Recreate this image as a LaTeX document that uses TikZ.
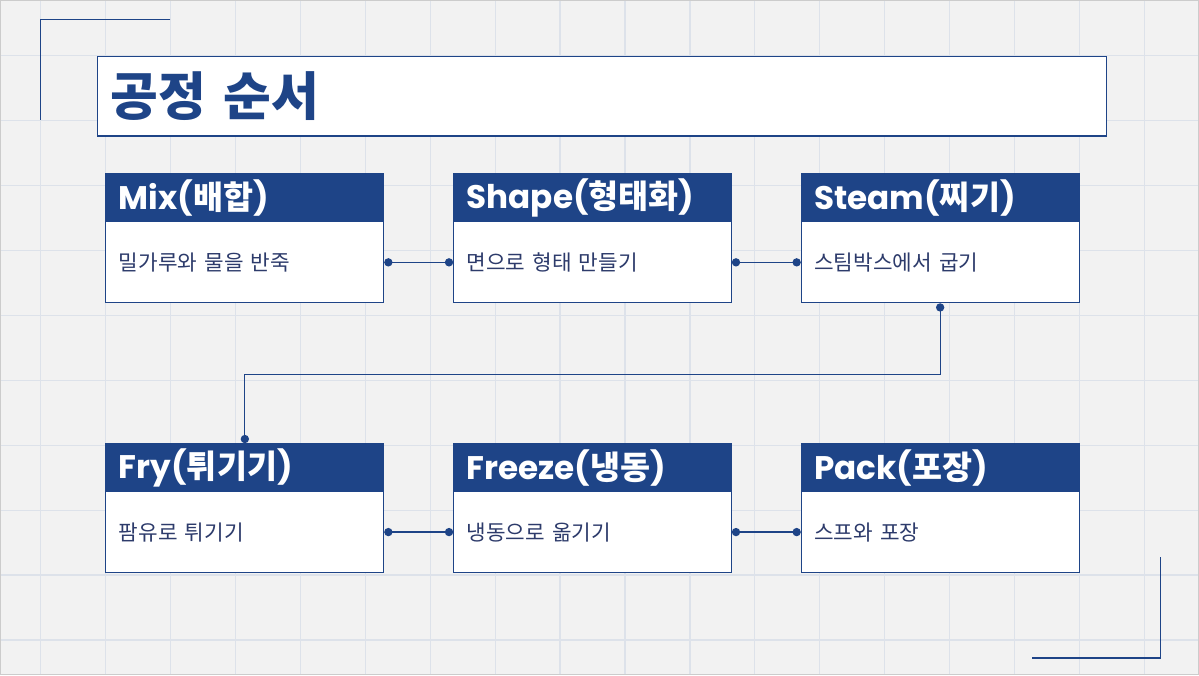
\documentclass[tikz,border=0pt]{standalone}
\usepackage{fontspec}
\usepackage{tikz}
\usetikzlibrary{arrows.meta}
\newfontfamily\krfont{Noto Sans CJK KR}
\newfontfamily\latfont{Poppins}
\definecolor{procblue}{HTML}{1E4487}
\definecolor{proctext}{HTML}{2D3B6B}
\definecolor{gridgray}{HTML}{DDE2EA}
\definecolor{paper}{HTML}{F2F2F2}
\newcommand{\steptitle}[2]{{\latfont\bfseries #1(}{\krfont\bfseries #2}{\latfont\bfseries )}}

\begin{document}
\begin{tikzpicture}[x=0.75pt, y=-0.75pt,
	title/.style={draw=procblue, line width=0.9pt, fill=white, anchor=north west, minimum height=60pt, text width=737.5pt, inner xsep=10pt, align=left, text=procblue, font=\krfont\bfseries\fontsize{39}{44}\selectfont},
	head/.style={draw=procblue, line width=0.75pt, fill=procblue, anchor=north west, minimum height=36pt, text width=189pt, inner xsep=9.75pt, align=left, text=white, font=\fontsize{24.5}{28}\selectfont},
	body/.style={draw=procblue, line width=0.75pt, fill=white, anchor=north west, minimum height=60.75pt, text width=189pt, inner xsep=9.75pt, align=left, text=proctext, font=\krfont\fontsize{16}{20}\selectfont},
	link/.style={draw=procblue, line width=0.9pt, {Circle[length=6.2pt,width=6.2pt]}-{Circle[length=6.2pt,width=6.2pt]}},
	]
	\fill[paper] (0,0) rectangle (1199,675);
	\foreach \gx in {0,...,17}
		\draw[gridgray, line width=0.9pt] ({40+65*\gx},0) -- ({40+65*\gx},675);
	\foreach \gy in {0,...,9}
		\draw[gridgray, line width=0.9pt] (0,{55+65*\gy}) -- (1199,{55+65*\gy});
	\draw[gray!40, line width=0.75pt] (0,0) rectangle (1199,675);
	\useasboundingbox (0,0) rectangle (1199,675);

	% corner marks
	\draw[procblue, line width=1.1pt] (170,19) -- (40,19) -- (40,120);
	\draw[procblue, line width=1.1pt] (1161,557) -- (1161,658) -- (1032,658);

	\node[title] (ttl) at (96,55) {공정 순서};

	% first row
	\node[head] (mixh) at (105,173) {\steptitle{Mix}{배합}};
	\node[body] (mixb) at (105,221) {밀가루와 물을 반죽};
	\node[head] (shapeh) at (453,173) {\steptitle{Shape}{형태화}};
	\node[body] (shapeb) at (453,221) {면으로 형태 만들기};
	\node[head] (steamh) at (801,173) {\steptitle{Steam}{찌기}};
	\node[body] (steamb) at (801,221) {스팀박스에서 굽기};

	% second row
	\node[head] (fryh) at (105,443) {\steptitle{Fry}{튀기기}};
	\node[body] (fryb) at (105,491) {팜유로 튀기기};
	\node[head] (freezeh) at (453,443) {\steptitle{Freeze}{냉동}};
	\node[body] (freezeb) at (453,491) {냉동으로 옮기기};
	\node[head] (packh) at (801,443) {\steptitle{Pack}{포장}};
	\node[body] (packb) at (801,491) {스프와 포장};

	\draw[link] (mixb.east) -- (shapeb.west);
	\draw[link] (shapeb.east) -- (steamb.west);
	\draw[link] (fryb.east) -- (freezeb.west);
	\draw[link] (freezeb.east) -- (packb.west);
	\draw[link] (steamb.south) -- ++(0,71) -| (fryh.north);
\end{tikzpicture}
\end{document}
